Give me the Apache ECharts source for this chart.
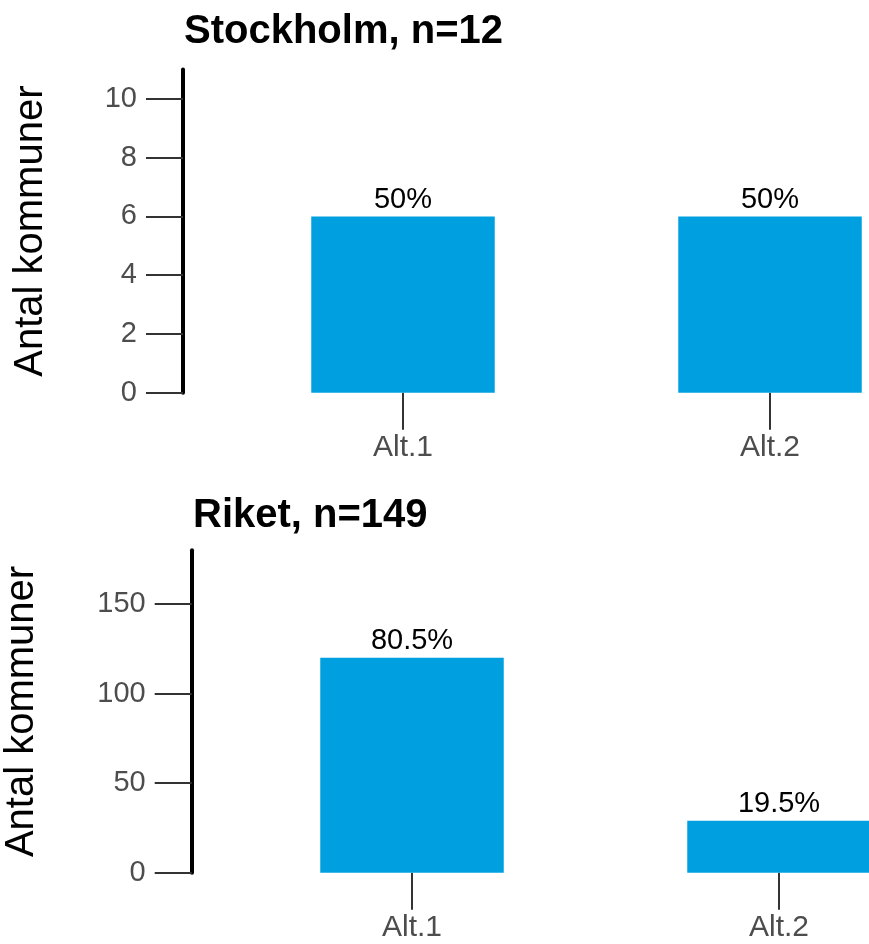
<!DOCTYPE html>
<html>
<head>
<meta charset="utf-8">
<script src="https://cdn.jsdelivr.net/npm/echarts@6/dist/echarts.min.js"></script>
<style>
html,body{margin:0;padding:0;background:#fff;}
#chart{width:869px;height:944px;}
</style>
</head>
<body>
<div id="chart"></div>
<script>
// ---- data ----
const categories = ['Alt.1', 'Alt.2'];
const stockholmTitle = 'Stockholm, n=12';
const stockholmCounts = [6, 6];
const stockholmPct = ['50%', '50%'];
const stockholmTicks = [0, 2, 4, 6, 8, 10];
const stockholmMax = 11;

const riketTitle = 'Riket, n=149';
const riketCounts = [120, 29];
const riketPct = ['80.5%', '19.5%'];
const riketTicks = [0, 50, 100, 150];
const riketMax = 180;

const yName = 'Antal kommuner';

// ---- style ----
const FONT = 'Liberation Sans, Arial, sans-serif';
const BAR = '#00A0E0';

const chart = echarts.init(document.getElementById('chart'), null, {renderer: 'canvas'});

function yAxis(gridIndex, max, ticks, nameGap, offset) {
  return {
    type: 'value', gridIndex: gridIndex, min: 0, max: max,
    offset: offset,
    name: yName, nameLocation: 'middle', nameGap: nameGap,
    nameTextStyle: {fontFamily: FONT, fontSize: 40, color: '#000'},
    axisLine: {show: true, lineStyle: {color: '#000', width: 4}},
    axisTick: {show: true, length: 37, customValues: ticks, lineStyle: {color: '#333', width: 2}},
    axisLabel: {show: true, margin: 46, customValues: ticks, fontFamily: FONT, fontSize: 29, color: '#4d4d4d'},
    splitLine: {show: false}
  };
}
function xAxis(gridIndex) {
  return {
    type: 'category', gridIndex: gridIndex, data: categories,
    axisLine: {show: false},
    axisTick: {show: true, alignWithLabel: true, length: 37, lineStyle: {color: '#333', width: 2}},
    axisLabel: {margin: 40, fontFamily: FONT, fontSize: 30, color: '#4d4d4d'},
    splitLine: {show: false}
  };
}
function barSeries(idx, counts, pct) {
  return {
    type: 'bar', xAxisIndex: idx, yAxisIndex: idx, data: counts,
    barWidth: '50%',
    itemStyle: {color: BAR},
    label: {show: true, position: 'top', distance: 2, fontFamily: FONT, fontSize: 29, color: '#000',
      formatter: p => pct[p.dataIndex]},
    silent: true
  };
}

chart.setOption({
  animation: false,
  title: [
    {text: stockholmTitle, left: 184, top: 12, padding: 0,
     textStyle: {fontFamily: FONT, fontSize: 40, fontWeight: 'bold', color: '#000'}},
    {text: riketTitle, left: 193, top: 496, padding: 0,
     textStyle: {fontFamily: FONT, fontSize: 40, fontWeight: 'bold', color: '#000'}}
  ],
  grid: [
    {left: 219.5, top: 69.6, width: 734, height: 323.1, outerBoundsMode: 'none', containLabel: false},
    {left: 228.5, top: 550.2, width: 734, height: 322.5, outerBoundsMode: 'none', containLabel: false}
  ],
  xAxis: [xAxis(0), xAxis(1)],
  yAxis: [
    yAxis(0, stockholmMax, stockholmTicks, 132, 36.5),
    yAxis(1, riketMax, riketTicks, 150, 36.8)
  ],
  series: [
    barSeries(0, stockholmCounts, stockholmPct),
    barSeries(1, riketCounts, riketPct)
  ]
});
</script>
</body>
</html>
